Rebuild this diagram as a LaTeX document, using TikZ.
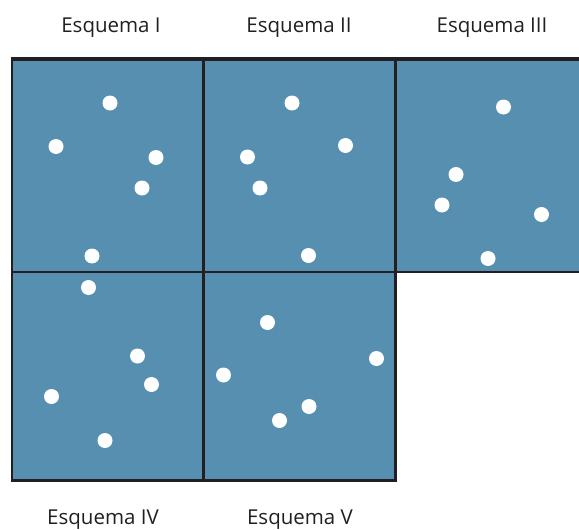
\documentclass[tikz,border=0pt]{standalone}
\usepackage{fontspec}
\setmainfont{Open Sans}
\definecolor{azulEsq}{RGB}{86,143,176}
\definecolor{bordeEsq}{RGB}{35,31,32}
\begin{document}
\begin{tikzpicture}[x=1pt, y=-1pt,
    titulo/.style={anchor=base, font=\fontsize{20.5}{24}\selectfont, text=bordeEsq},
    punto/.style={fill=white}]
    % --- 定义网格坐标 ---
    \def\xA{12}      % 左边
    \def\xB{203.5}   % 第一条竖线
    \def\xC{395.5}   % 第二条竖线
    \def\xD{579}     % 右边 (图片边缘)
    \def\yA{59}      % 上边
    \def\yB{272}     % 中间横线
    \def\yC{480.5}   % 下边
    \def\rPunto{7.5} % 圆点半径

    \useasboundingbox (0,0) rectangle (579,530);

    % --- 填充蓝色区域 ---
    \fill[azulEsq] (\xA,\yA) rectangle (\xD,\yB);
    \fill[azulEsq] (\xA,\yB) rectangle (\xC,\yC);

    % --- 绘制网格线 ---
    % 外框 (粗线)
    \draw[bordeEsq, line width=3.5] (\xA-1,\yA) -- (\xD,\yA);
    \draw[bordeEsq, line width=3.5] (\xA-1,\yC) -- (\xC+1,\yC);
    \draw[bordeEsq, line width=2.2] (\xA,\yA) -- (\xA,\yC);
    % 内部线
    \draw[bordeEsq, line width=2.5] (\xA,\yB) -- (\xD,\yB);
    \draw[bordeEsq, line width=2.2] (\xB,\yA) -- (\xB,\yC);
    \draw[bordeEsq, line width=2.2] (\xC,\yA) -- (\xC,\yC);

    % --- 标题 ---
    \node[titulo] (tI)   at (111,32.3)  {Esquema I};
    \node[titulo] (tII)  at (299,32.3)  {Esquema II};
    \node[titulo] (tIII) at (492,32.3)  {Esquema III};
    \node[titulo] (tIV)  at (103,524.5) {Esquema IV};
    \node[titulo] (tV)   at (300,524.5) {Esquema V};

    % --- 圆点 ---
    % Esquema I
    \foreach \x/\y in {110/103, 56/146.5, 156/157.5, 142/188, 92/256}
        \fill[punto] (\x,\y) circle (\rPunto);
    % Esquema II
    \foreach \x/\y in {292/103, 345.5/145.5, 247.5/157, 260/188, 308.5/255.5}
        \fill[punto] (\x,\y) circle (\rPunto);
    % Esquema III
    \foreach \x/\y in {503.5/107, 456/174.5, 442/205, 541.5/214.5, 488/258.5}
        \fill[punto] (\x,\y) circle (\rPunto);
    % Esquema IV
    \foreach \x/\y in {88.5/287.5, 137.5/356, 151.5/384.5, 51.5/396.5, 105/440.5}
        \fill[punto] (\x,\y) circle (\rPunto);
    % Esquema V
    \foreach \x/\y in {267.5/322.5, 376.5/358.5, 223.5/375, 309/406.5, 279.5/420.5}
        \fill[punto] (\x,\y) circle (\rPunto);

\end{tikzpicture}
\end{document}
